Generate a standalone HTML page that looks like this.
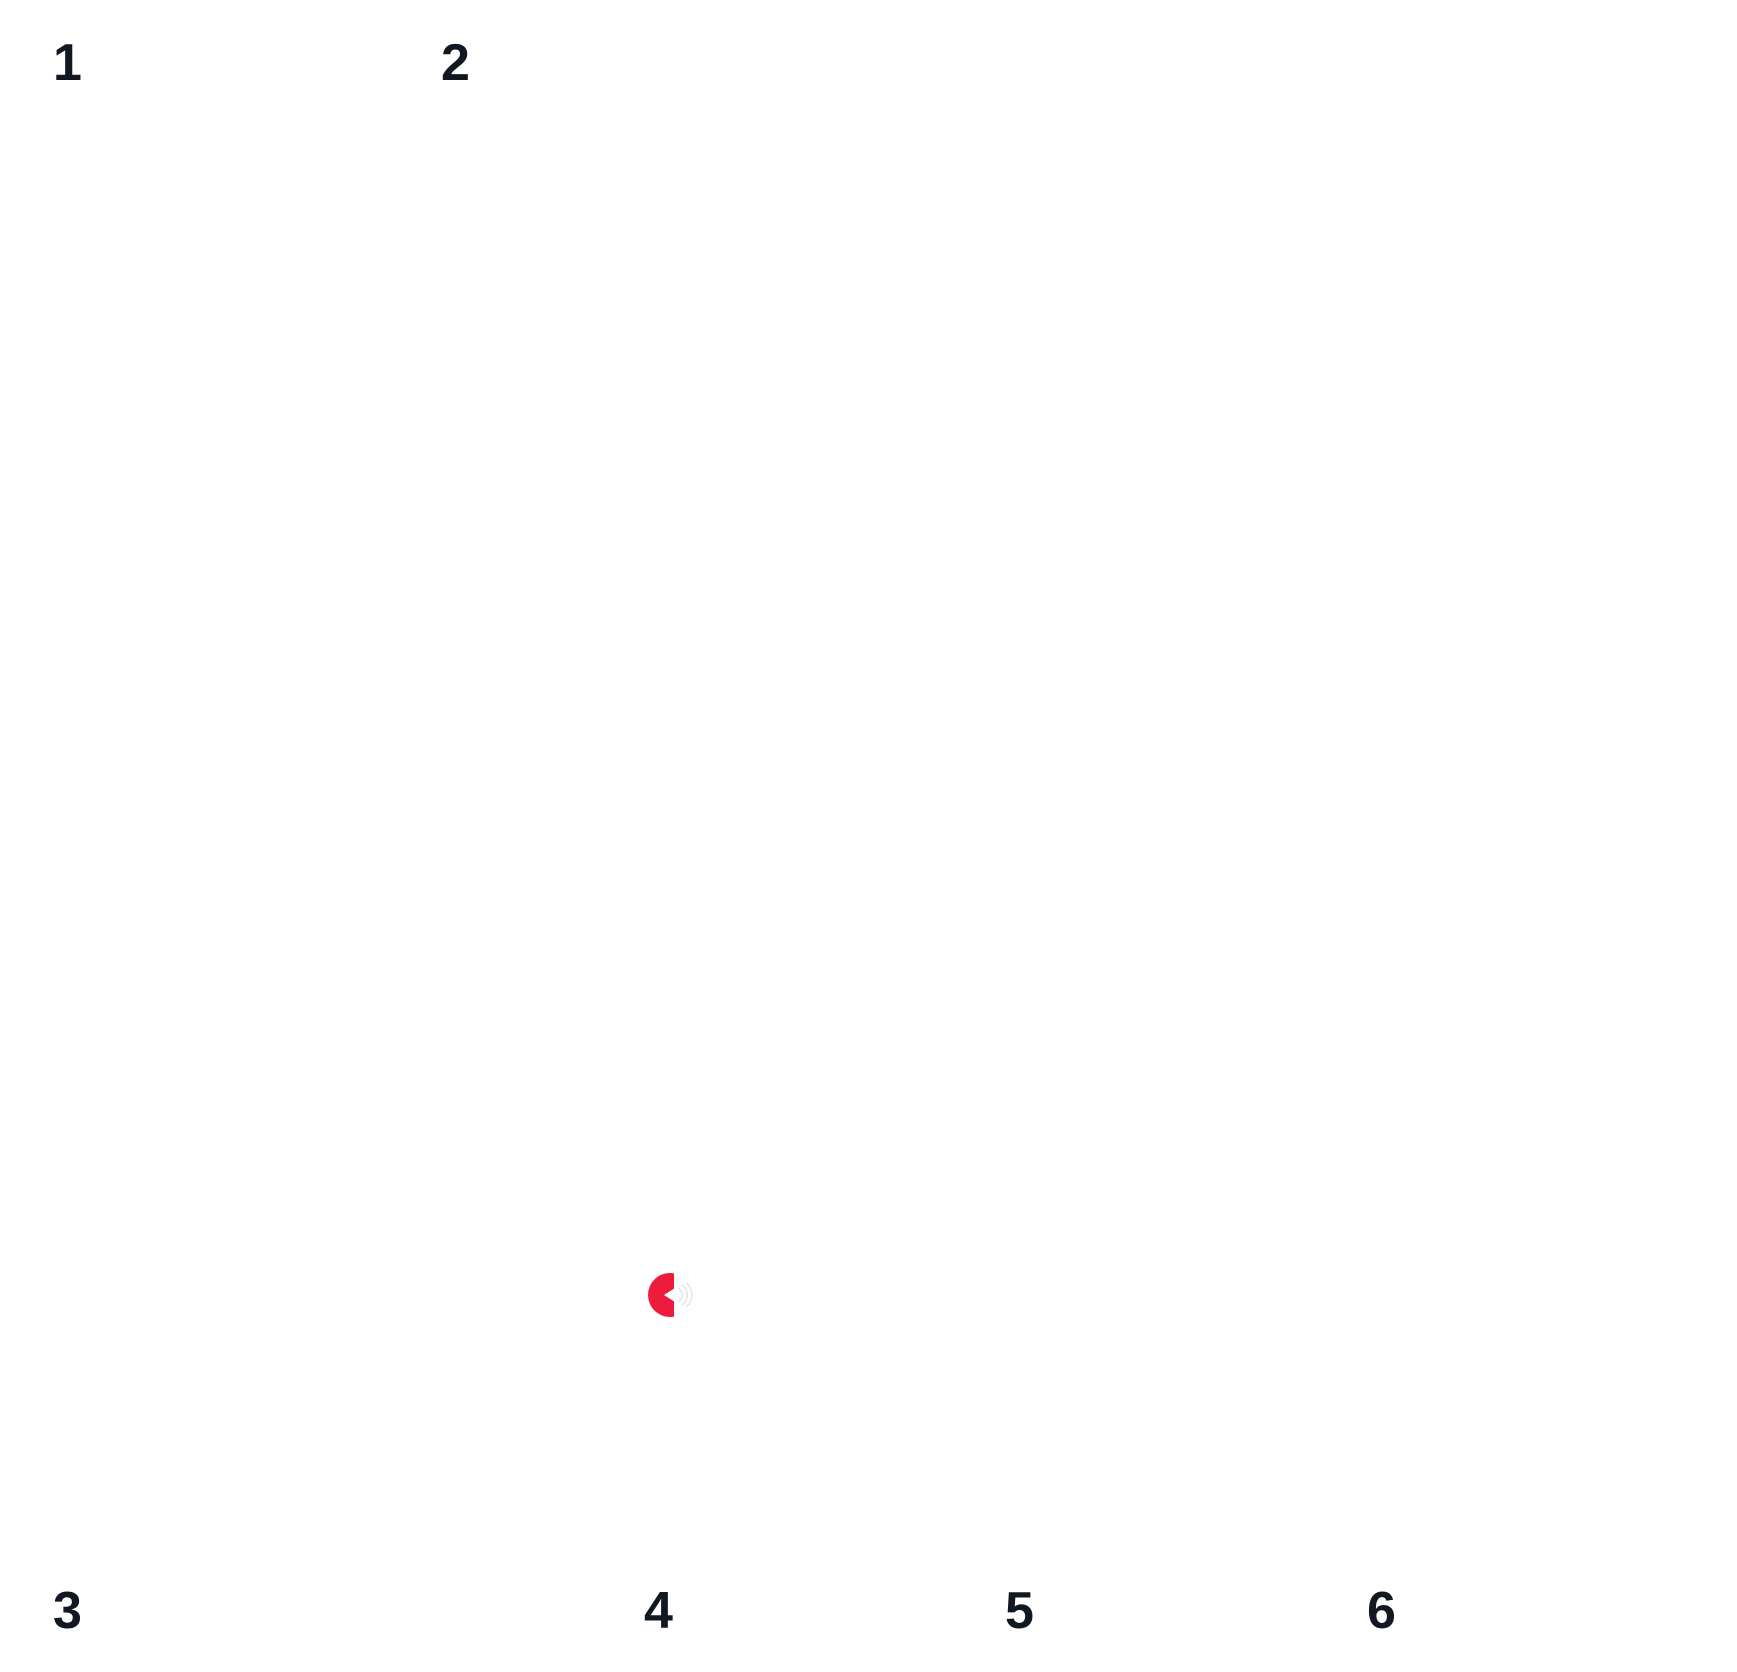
<!DOCTYPE html>
<html><head><meta charset="utf-8"><style>
html,body{margin:0;padding:0;background:#fff;}
body{width:1737px;height:1672px;position:relative;overflow:hidden;font-family:"Liberation Sans",sans-serif;}
</style></head><body>
<svg width="1737" height="1672" style="position:absolute;left:0;top:0">
<g font-family="Liberation Sans, sans-serif" font-weight="bold" font-size="52" fill="#121822">
<text x="53" y="80">1</text>
<text x="441" y="80">2</text>
<text x="53" y="1628">3</text>
<text x="644" y="1628">4</text>
<text x="1005" y="1628">5</text>
<text x="1367" y="1628">6</text>
</g>
<g transform="translate(-3,-6)">
<clipPath id="c"><rect x="640" y="1260" width="37" height="80"/></clipPath>
<circle clip-path="url(#c)" cx="673" cy="1301" r="22" fill="#ee1c3c"/>
<polygon points="667,1301 678,1294 678,1308" fill="#fff"/>
<path d="M681 1294 A8 8 0 0 1 681 1308" fill="none" stroke="#e6e6e6" stroke-width="1.5"/>
<path d="M685 1291 A12 12 0 0 1 685 1311" fill="none" stroke="#e6e6e6" stroke-width="1.5"/>
<path d="M689 1289 A15 15 0 0 1 689 1313" fill="none" stroke="#e6e6e6" stroke-width="1.5"/>
</g>
</svg>
</body></html>
